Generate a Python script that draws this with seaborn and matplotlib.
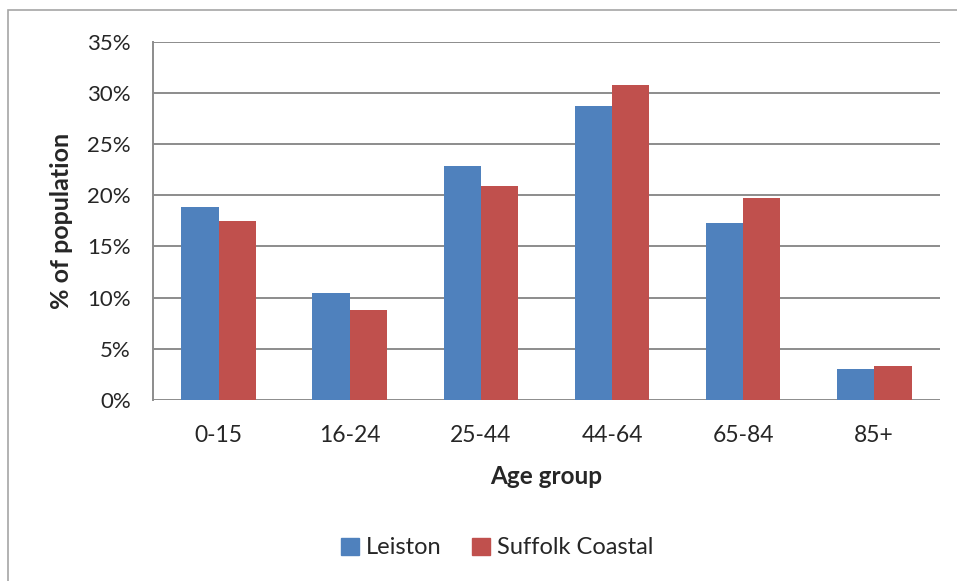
import pandas as pd
import matplotlib.pyplot as plt
import matplotlib.patches as mpatches
from matplotlib.ticker import PercentFormatter
import seaborn as sns

# Data (% of population)
age_groups = ["0-15", "16-24", "25-44", "44-64", "65-84", "85+"]
leiston = [18.8, 10.4, 22.8, 28.7, 17.3, 3.0]
suffolk_coastal = [17.5, 8.8, 20.9, 30.8, 19.7, 3.3]
series_names = ["Leiston", "Suffolk Coastal"]
colors = {"Leiston": "#4F81BD", "Suffolk Coastal": "#C0504D"}

df = pd.DataFrame({
    "Age group": age_groups * 2,
    "Value": leiston + suffolk_coastal,
    "Area": [series_names[0]] * len(age_groups) + [series_names[1]] * len(age_groups),
})

sns.set_style("white")
plt.rcParams["font.family"] = ["Lato", "DejaVu Sans"]

fig = plt.figure(figsize=(9.57, 5.81), dpi=100)
ax = fig.add_axes([0.160, 0.3115, 0.822, 0.617])

# outer chart frame
fig.patches.append(mpatches.Rectangle((8 / 957, -0.1), 1.2, (581 - 10) / 581 + 0.1,
                                      transform=fig.transFigure, fill=False,
                                      edgecolor="#A6A6A6", linewidth=1.2))

sns.barplot(data=df, x="Age group", y="Value", hue="Area", palette=colors,
            order=age_groups, hue_order=series_names, width=0.57, gap=0,
            saturation=1, edgecolor="none", legend=False, ax=ax, zorder=3)

ax.set_ylim(0, 35)
ax.set_yticks(range(0, 36, 5))
ax.yaxis.set_major_formatter(PercentFormatter(decimals=0))
ax.grid(axis="y", color="#8C8C8C", linewidth=1.4, zorder=0)
ax.set_axisbelow(True)
for side in ["top", "right", "bottom"]:
    ax.spines[side].set_visible(False)
ax.spines["left"].set_color("#8C8C8C")
ax.spines["left"].set_linewidth(1.4)
ax.tick_params(axis="y", length=7, width=1.4, color="#8C8C8C", labelsize=16, pad=9)
ax.tick_params(axis="x", length=0, labelsize=16.5, pad=18)

ax.set_xlabel("Age group", fontsize=17.5, fontweight="bold", labelpad=14)
ax.set_ylabel("% of population", fontsize=18, fontweight="bold", labelpad=10)

handles = [mpatches.Patch(color=colors[n], label=n) for n in series_names]
fig.legend(handles=handles, loc="center", bbox_to_anchor=(497 / 957, (581 - 548) / 581),
           ncol=2, frameon=False, fontsize=17, handlelength=0.75, handleheight=0.75,
           handletextpad=0.3, columnspacing=1.3)

fig.savefig("out.png", dpi=100)
